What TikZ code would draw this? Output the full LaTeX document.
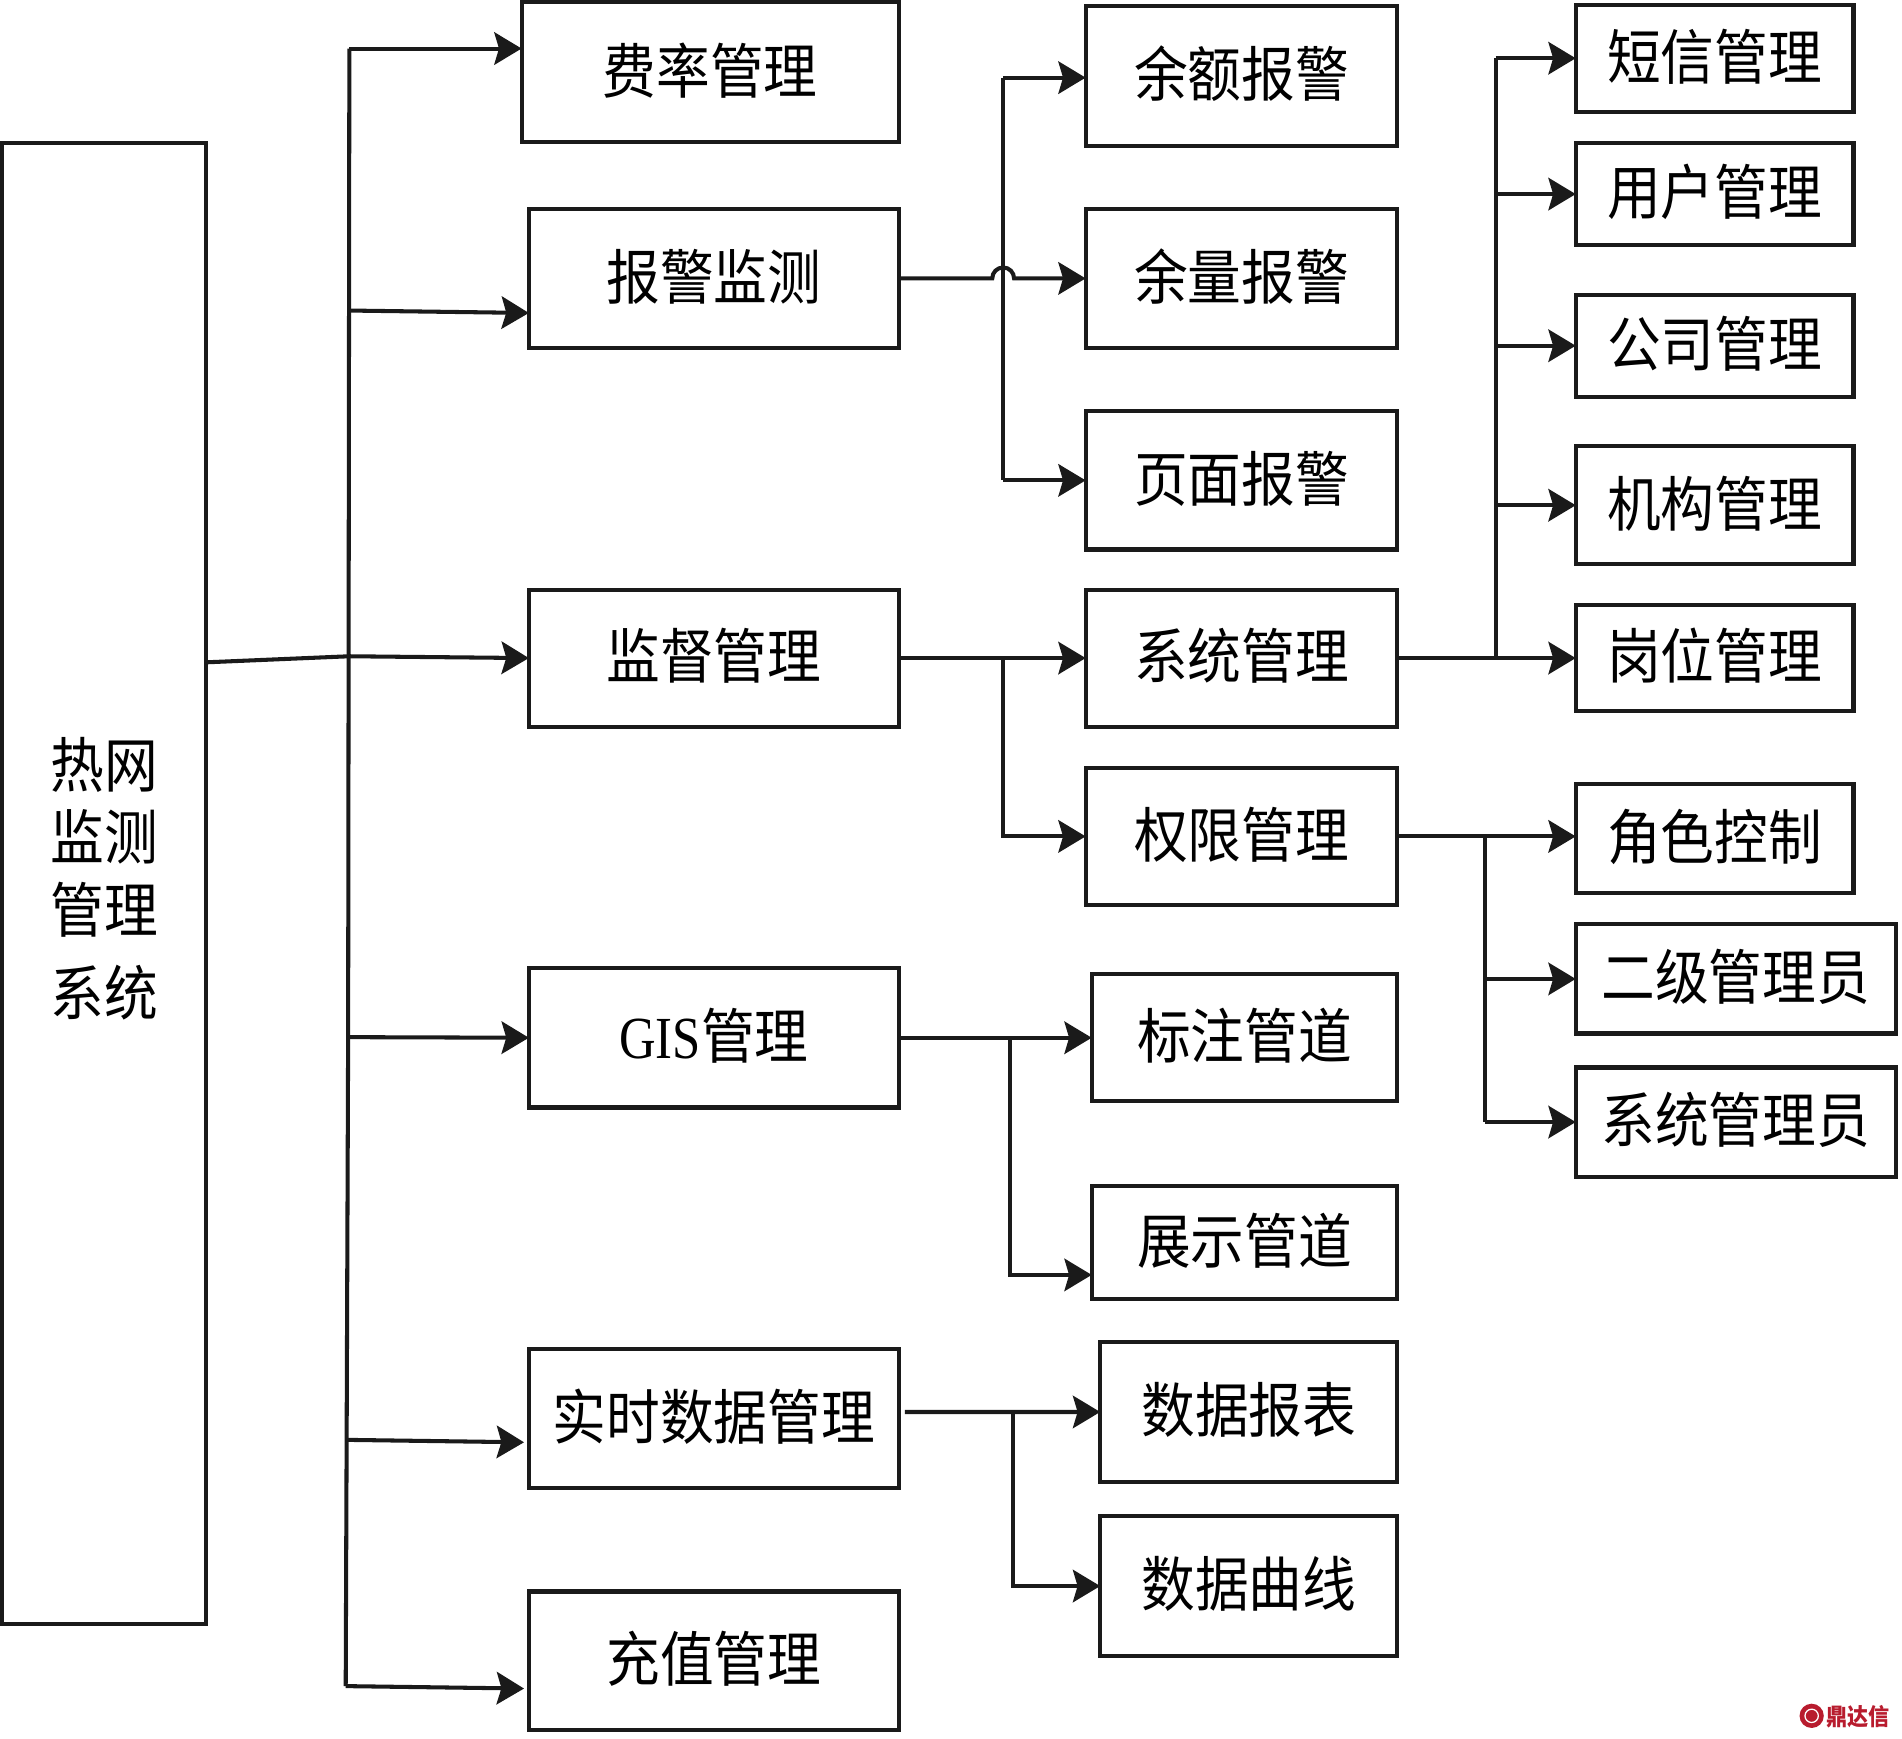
\documentclass[tikz,border=0pt]{standalone}
\usepackage{fontspec}
\setmainfont[FakeStretch=0.9]{Noto Sans CJK SC}
\newfontfamily\latinfont[FakeStretch=0.85]{Liberation Serif}
\usepackage{xcolor}
\usetikzlibrary{arrows.meta}
\definecolor{linegray}{HTML}{1A1A1A}
\definecolor{markred}{HTML}{B81C2E}
\begin{document}
\begin{tikzpicture}[x=1cm,y=-1cm,
    frame/.style={draw=linegray,line width=0.95pt,outer sep=0pt,inner sep=0pt,align=center,
      font=\fontsize{14pt}{17pt}\selectfont},
    box/.style={frame,text height=11pt,text depth=1.2pt},
    sz/.style 2 args={minimum width=#1cm,minimum height=#2cm},
    arrow/.style={draw=linegray,line width=0.95pt,-{Stealth[length=6.4pt,width=7.6pt,inset=1.1pt]}},
    links/.style={every edge/.style={arrow}},
    plain/.style={draw=linegray,line width=0.95pt}]
  \useasboundingbox (0,0) rectangle (15.68,14.328);

  % left system box
  \node[frame,sz={1.68}{12.21}] (sys) at (0.86,7.285)
    {热网\\监测\\管理\\[2.6pt]系统\rule[-3.4pt]{0pt}{1pt}};

  % first level
  \node[box,sz={3.11}{1.15}] (feilv)    at (5.855,0.595)  {费率管理};
  \node[box,sz={3.05}{1.15}] (baojing)  at (5.885,2.295)  {报警监测};
  \node[box,sz={3.05}{1.13}] (jiandu)   at (5.885,5.425)  {监督管理};
  \node[box,sz={3.05}{1.15}] (gis)      at (5.885,8.555)  {{\latinfont GIS}管理};
  \node[box,sz={3.05}{1.15}] (shishi)   at (5.885,11.695) {实时数据管理};
  \node[box,sz={3.05}{1.14}] (chongzhi) at (5.885,13.69)  {充值管理};

  % second level
  \node[box,sz={2.57}{1.15}] (yue)      at (10.235,0.625)  {余额报警};
  \node[box,sz={2.57}{1.15}] (yuliang)  at (10.235,2.295)  {余量报警};
  \node[box,sz={2.57}{1.14}] (yemian)   at (10.235,3.96)   {页面报警};
  \node[box,sz={2.57}{1.13}] (xitong)   at (10.235,5.425)  {系统管理};
  \node[box,sz={2.57}{1.13}] (quanxian) at (10.235,6.895)  {权限管理};
  \node[box,sz={2.52}{1.05}] (biaozhu)  at (10.26,8.555)   {标注管道};
  \node[box,sz={2.52}{0.93}] (zhanshi)  at (10.26,10.245)  {展示管道};
  \node[box,sz={2.45}{1.16}] (baobiao)  at (10.295,11.64)  {数据报表};
  \node[box,sz={2.45}{1.15}] (quxian)   at (10.295,13.075) {数据曲线};

  % third level
  \node[box,sz={2.29}{0.88}] (duanxin)  at (14.135,0.48)  {短信管理};
  \node[box,sz={2.29}{0.84}] (yonghu)   at (14.135,1.60)  {用户管理};
  \node[box,sz={2.29}{0.84}] (gongsi)   at (14.135,2.85)  {公司管理};
  \node[box,sz={2.29}{0.97}] (jigou)    at (14.135,4.165) {机构管理};
  \node[box,sz={2.29}{0.87}] (gangwei)  at (14.135,5.425) {岗位管理};
  \node[box,sz={2.29}{0.90}] (juese)    at (14.135,6.91)  {角色控制};
  \node[box,sz={2.64}{0.90}] (erji)     at (14.31,8.07)   {二级管理员};
  \node[box,sz={2.64}{0.90}] (admin)    at (14.31,9.25)   {系统管理员};

  % junctions
  \coordinate (t0) at (2.88,0.40);
  \coordinate (t1) at (2.88,2.56);
  \coordinate (t2) at (2.88,5.41);
  \coordinate (t3) at (2.87,8.55);
  \coordinate (t4) at (2.86,11.87);
  \coordinate (t5) at (2.85,13.90);
  \coordinate (a0) at (8.27,0.64);
  \coordinate (a1) at (8.18,2.295);
  \coordinate (a2) at (8.27,3.96);
  \coordinate (b0) at (8.27,5.43);
  \coordinate (c0) at (12.33,5.43);
  \coordinate (c1) at (12.33,0.48);
  \coordinate (d0) at (12.24,6.90);
  \coordinate (e0) at (8.33,8.55);
  \coordinate (f0) at (8.35,11.64);

  \draw[plain] (t0) -- (t3) -- (t5);
  \draw[arrow] ([yshift=1.825cm]sys.east) -- (t2) -- (jiandu.west);
  \path[links]
    (t0) edge ([yshift=0.195cm]feilv.west)
    (t1) edge ([yshift=-0.285cm]baojing.west)
    (t3) edge (gis.west)
    (t4) edge ([xshift=-0.04cm,yshift=-0.195cm]shishi.west)
    (t5) edge ([xshift=-0.04cm,yshift=-0.23cm]chongzhi.west);

  % alarm branch, with the hop over the line
  \draw[plain] (a0) -- (a2);
  \draw[arrow] (baojing.east) -- (a1) arc (180:0:0.09cm) -- (yuliang.west);
  \draw[arrow] (a0) -- ([yshift=-0.015cm]yue.west);
  \draw[arrow] (a2) -- (yemian.west);

  \draw[arrow] (jiandu.east) -- (xitong.west);
  \draw[arrow] (b0) |- (quanxian.west);

  \draw[plain] (c0) -- (c1);
  \path[links]
    (xitong.east) edge (gangwei.west)
    (c1) edge (duanxin.west)
    (c1 |- yonghu) edge (yonghu.west)
    (c1 |- gongsi) edge (gongsi.west)
    (c1 |- jigou) edge (jigou.west);

  \draw[arrow] (quanxian.east) -- ([yshift=0.015cm]juese.west);
  \draw[plain] (d0) -- (d0 |- admin);
  \path[links]
    (d0 |- erji) edge (erji.west)
    (d0 |- admin) edge (admin.west);

  \draw[arrow] (gis.east) -- (biaozhu.west);
  \draw[arrow] (e0) |- ([yshift=-0.265cm]zhanshi.west);

  \draw[arrow] ([xshift=0.05cm,yshift=0.055cm]shishi.east) -- (baobiao.west);
  \draw[arrow] (f0) |- (quxian.west);

  % mark in the corner
  \node[circle,fill=markred,minimum size=0.2cm,inner sep=0pt] (mark) at (14.935,14.145) {};
  \draw[white,line width=0.3pt] (mark) circle (0.055cm);
  \node[anchor=west,inner sep=0pt,text=markred,font=\fontsize{5.5pt}{6pt}\selectfont\bfseries] (marktext) at (15.05,14.15) {鼎达信};
\end{tikzpicture}
\end{document}
